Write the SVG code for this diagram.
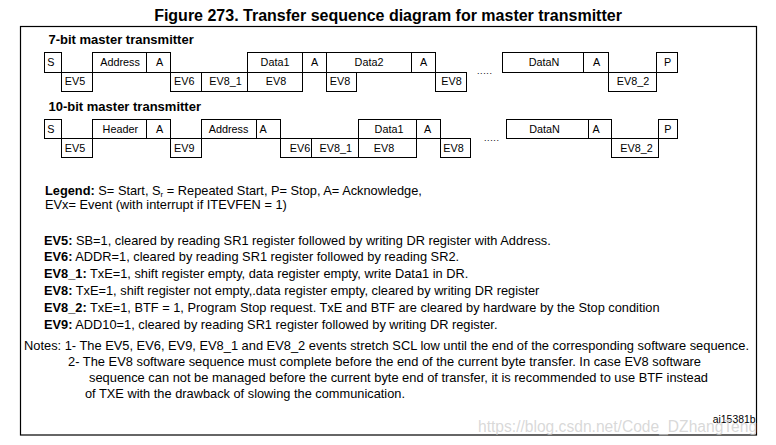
<svg xmlns="http://www.w3.org/2000/svg" width="776" height="445" viewBox="0 0 776 445">
<style>
text{font-family:"Liberation Sans",Arial,sans-serif;fill:#000}
.box{fill:none;stroke:#000;stroke-width:1}
.lbl{font-size:10.8px;text-anchor:middle}
.hd{font-size:13px;font-weight:bold}
.ttl{font-size:16px;font-weight:bold;text-anchor:middle}
.bd{font-size:12.8px}
.nt{font-size:13.4px}
.b{font-weight:bold}
.dots{font-size:9px}
</style>
<rect width="776" height="445" fill="#fff"/>
<text class="ttl" x="388" y="21">Figure 273. Transfer sequence diagram for master transmitter</text>
<rect x="20.5" y="26.5" width="736" height="408.5" fill="none" stroke="#000" stroke-width="1.2"/>

<g id="seq7">
<text class="hd" x="48.5" y="43.5">7-bit master transmitter</text>
<g id="s7-S"><rect class="box" x="44.5" y="52.5" width="17" height="20"/><text class="lbl" x="50.8" y="66.4">S</text></g>
<g id="s7-EV5"><rect class="box" x="61.5" y="72.5" width="31" height="19"/><text class="lbl" x="75" y="85.4">EV5</text></g>
<g id="s7-Address"><rect class="box" x="92.5" y="52.5" width="54" height="20"/><text class="lbl" x="120" y="66.4">Address</text></g>
<g id="s7-A1"><rect class="box" x="146.5" y="52.5" width="24" height="20"/><text class="lbl" x="159.5" y="66.4">A</text></g>
<g id="s7-EV6"><rect class="box" x="170.5" y="72.5" width="31" height="19"/><text class="lbl" x="184.2" y="85.4">EV6</text></g>
<g id="s7-EV8_1"><rect class="box" x="201.5" y="72.5" width="46" height="19"/><text class="lbl" x="225.5" y="85.4">EV8_1</text></g>
<g id="s7-Data1"><rect class="box" x="247.5" y="52.5" width="55" height="20"/><text class="lbl" x="275" y="66.4">Data1</text></g>
<g id="s7-EV8a"><rect class="box" x="247.5" y="72.5" width="55" height="19"/><text class="lbl" x="276" y="85.4">EV8</text></g>
<g id="s7-A2"><rect class="box" x="302.5" y="52.5" width="24" height="20"/><text class="lbl" x="314.5" y="66.4">A</text></g>
<g id="s7-EV8b"><rect class="box" x="326.5" y="72.5" width="30" height="19"/><text class="lbl" x="340" y="85.4">EV8</text></g>
<g id="s7-Data2"><rect class="box" x="326.5" y="52.5" width="85" height="20"/><text class="lbl" x="369" y="66.4">Data2</text></g>
<g id="s7-A3"><rect class="box" x="411.5" y="52.5" width="24" height="20"/><text class="lbl" x="423.7" y="66.4">A</text></g>
<g id="s7-EV8c"><rect class="box" x="435.5" y="72.5" width="31" height="19"/><text class="lbl" x="451.5" y="85.4">EV8</text></g>
<text class="dots" x="477" y="74" textLength="15" lengthAdjust="spacing">.....</text>
<g id="s7-DataN"><rect class="box" x="502.5" y="52.5" width="81" height="20"/><text class="lbl" x="544" y="66.4">DataN</text></g>
<g id="s7-A4"><rect class="box" x="583.5" y="52.5" width="25" height="20"/><text class="lbl" x="596.5" y="66.4">A</text></g>
<g id="s7-EV8_2"><rect class="box" x="608.5" y="72.5" width="48" height="19"/><text class="lbl" x="633" y="85.4">EV8_2</text></g>
<g id="s7-P"><rect class="box" x="656.5" y="52.5" width="21" height="20"/><text class="lbl" x="667.5" y="66.4">P</text></g>
</g>

<g id="seq10">
<text class="hd" x="48.5" y="110.5">10-bit master transmitter</text>
<g id="s10-S"><rect class="box" x="44.5" y="119.5" width="17" height="19"/><text class="lbl" x="50.8" y="132.6">S</text></g>
<g id="s10-EV5"><rect class="box" x="61.5" y="138.5" width="31" height="19"/><text class="lbl" x="75" y="151.6">EV5</text></g>
<g id="s10-Header"><rect class="box" x="92.5" y="119.5" width="54" height="19"/><text class="lbl" x="120.3" y="132.6">Header</text></g>
<g id="s10-A1"><rect class="box" x="146.5" y="119.5" width="24" height="19"/><text class="lbl" x="159.5" y="132.6">A</text></g>
<g id="s10-EV9"><rect class="box" x="170.5" y="138.5" width="31" height="19"/><text class="lbl" x="184.2" y="151.6">EV9</text></g>
<g id="s10-Address"><rect class="box" x="201.5" y="119.5" width="55" height="19"/><text class="lbl" x="228.5" y="132.6">Address</text></g>
<g id="s10-A2"><rect class="box" x="256.5" y="119.5" width="24" height="19"/><text class="lbl" x="263" y="132.6">A</text></g>
<g id="s10-EV6"><rect class="box" x="280.5" y="138.5" width="31" height="19"/><text class="lbl" x="300" y="151.6">EV6</text></g>
<g id="s10-EV8_1"><rect class="box" x="311.5" y="138.5" width="47" height="19"/><text class="lbl" x="335.8" y="151.6">EV8_1</text></g>
<g id="s10-Data1"><rect class="box" x="358.5" y="119.5" width="58" height="19"/><text class="lbl" x="389" y="132.6">Data1</text></g>
<g id="s10-EV8a"><rect class="box" x="358.5" y="138.5" width="58" height="19"/><text class="lbl" x="384" y="151.6">EV8</text></g>
<g id="s10-A3"><rect class="box" x="416.5" y="119.5" width="24" height="19"/><text class="lbl" x="427.5" y="132.6">A</text></g>
<g id="s10-EV8b"><rect class="box" x="440.5" y="138.5" width="30" height="19"/><text class="lbl" x="453.5" y="151.6">EV8</text></g>
<text class="dots" x="484" y="141" textLength="15" lengthAdjust="spacing">.....</text>
<g id="s10-DataN"><rect class="box" x="506.5" y="119.5" width="82" height="19"/><text class="lbl" x="544.5" y="132.6">DataN</text></g>
<g id="s10-A4"><rect class="box" x="588.5" y="119.5" width="23" height="19"/><text class="lbl" x="596" y="132.6">A</text></g>
<g id="s10-EV8_2"><rect class="box" x="611.5" y="138.5" width="47" height="19"/><text class="lbl" x="636.5" y="151.6">EV8_2</text></g>
<g id="s10-P"><rect class="box" x="658.5" y="119.5" width="19" height="19"/><text class="lbl" x="667.8" y="132.6">P</text></g>
</g>

<g id="connectors"></g>

<g id="legend">
<text class="bd" x="45" y="194.5"><tspan class="b">Legend:</tspan> S= Start, S<tspan font-size="8px" dy="2">r</tspan><tspan dy="-2"> = Repeated Start, P= Stop, A= Acknowledge,</tspan></text>
<text class="bd" x="45" y="208.5">EVx= Event (with interrupt if ITEVFEN = 1)</text>
</g>

<g id="events">
<text class="bd" x="44" y="244.5"><tspan class="b">EV5:</tspan> SB=1, cleared by reading SR1 register followed by writing DR register with Address.</text>
<text class="bd" x="44" y="261.3"><tspan class="b">EV6:</tspan> ADDR=1, cleared by reading SR1 register followed by reading SR2.</text>
<text class="bd" x="44" y="278.1"><tspan class="b">EV8_1:</tspan> TxE=1, shift register empty, data register empty, write Data1 in DR.</text>
<text class="bd" x="44" y="294.9"><tspan class="b">EV8:</tspan> TxE=1, shift register not empty,.data register empty, cleared by writing DR register</text>
<text class="bd" x="44" y="311.7"><tspan class="b">EV8_2:</tspan> TxE=1, BTF = 1, Program Stop request. TxE and BTF are cleared by hardware by the Stop condition</text>
<text class="bd" x="44" y="328.5"><tspan class="b">EV9:</tspan> ADD10=1, cleared by reading SR1 register followed by writing DR register.</text>
</g>

<g id="notes">
<text class="nt" x="24" y="349.5" textLength="725" lengthAdjust="spacingAndGlyphs">Notes: 1- The EV5, EV6, EV9, EV8_1 and EV8_2 events stretch SCL low until the end of the corresponding software sequence.</text>
<text class="nt" x="68" y="365.5" textLength="633" lengthAdjust="spacingAndGlyphs">2- The EV8 software sequence must complete before the end of the current byte transfer. In case EV8 software</text>
<text class="nt" x="89" y="381.5" textLength="619" lengthAdjust="spacingAndGlyphs">sequence can not be managed before the current byte end of transfer, it is recommended to use BTF instead</text>
<text class="nt" x="85" y="397.5" textLength="320" lengthAdjust="spacingAndGlyphs">of TXE with the drawback of slowing the communication.</text>
</g>

<text x="755.5" y="422.5" font-size="10.4px" text-anchor="end">ai15381b</text>
<text x="478" y="432" font-size="15.6px" style="fill:#c8c8c8" fill-opacity="0.7">https://blog.csdn.net/Code_DZhangTeng</text>
</svg>
